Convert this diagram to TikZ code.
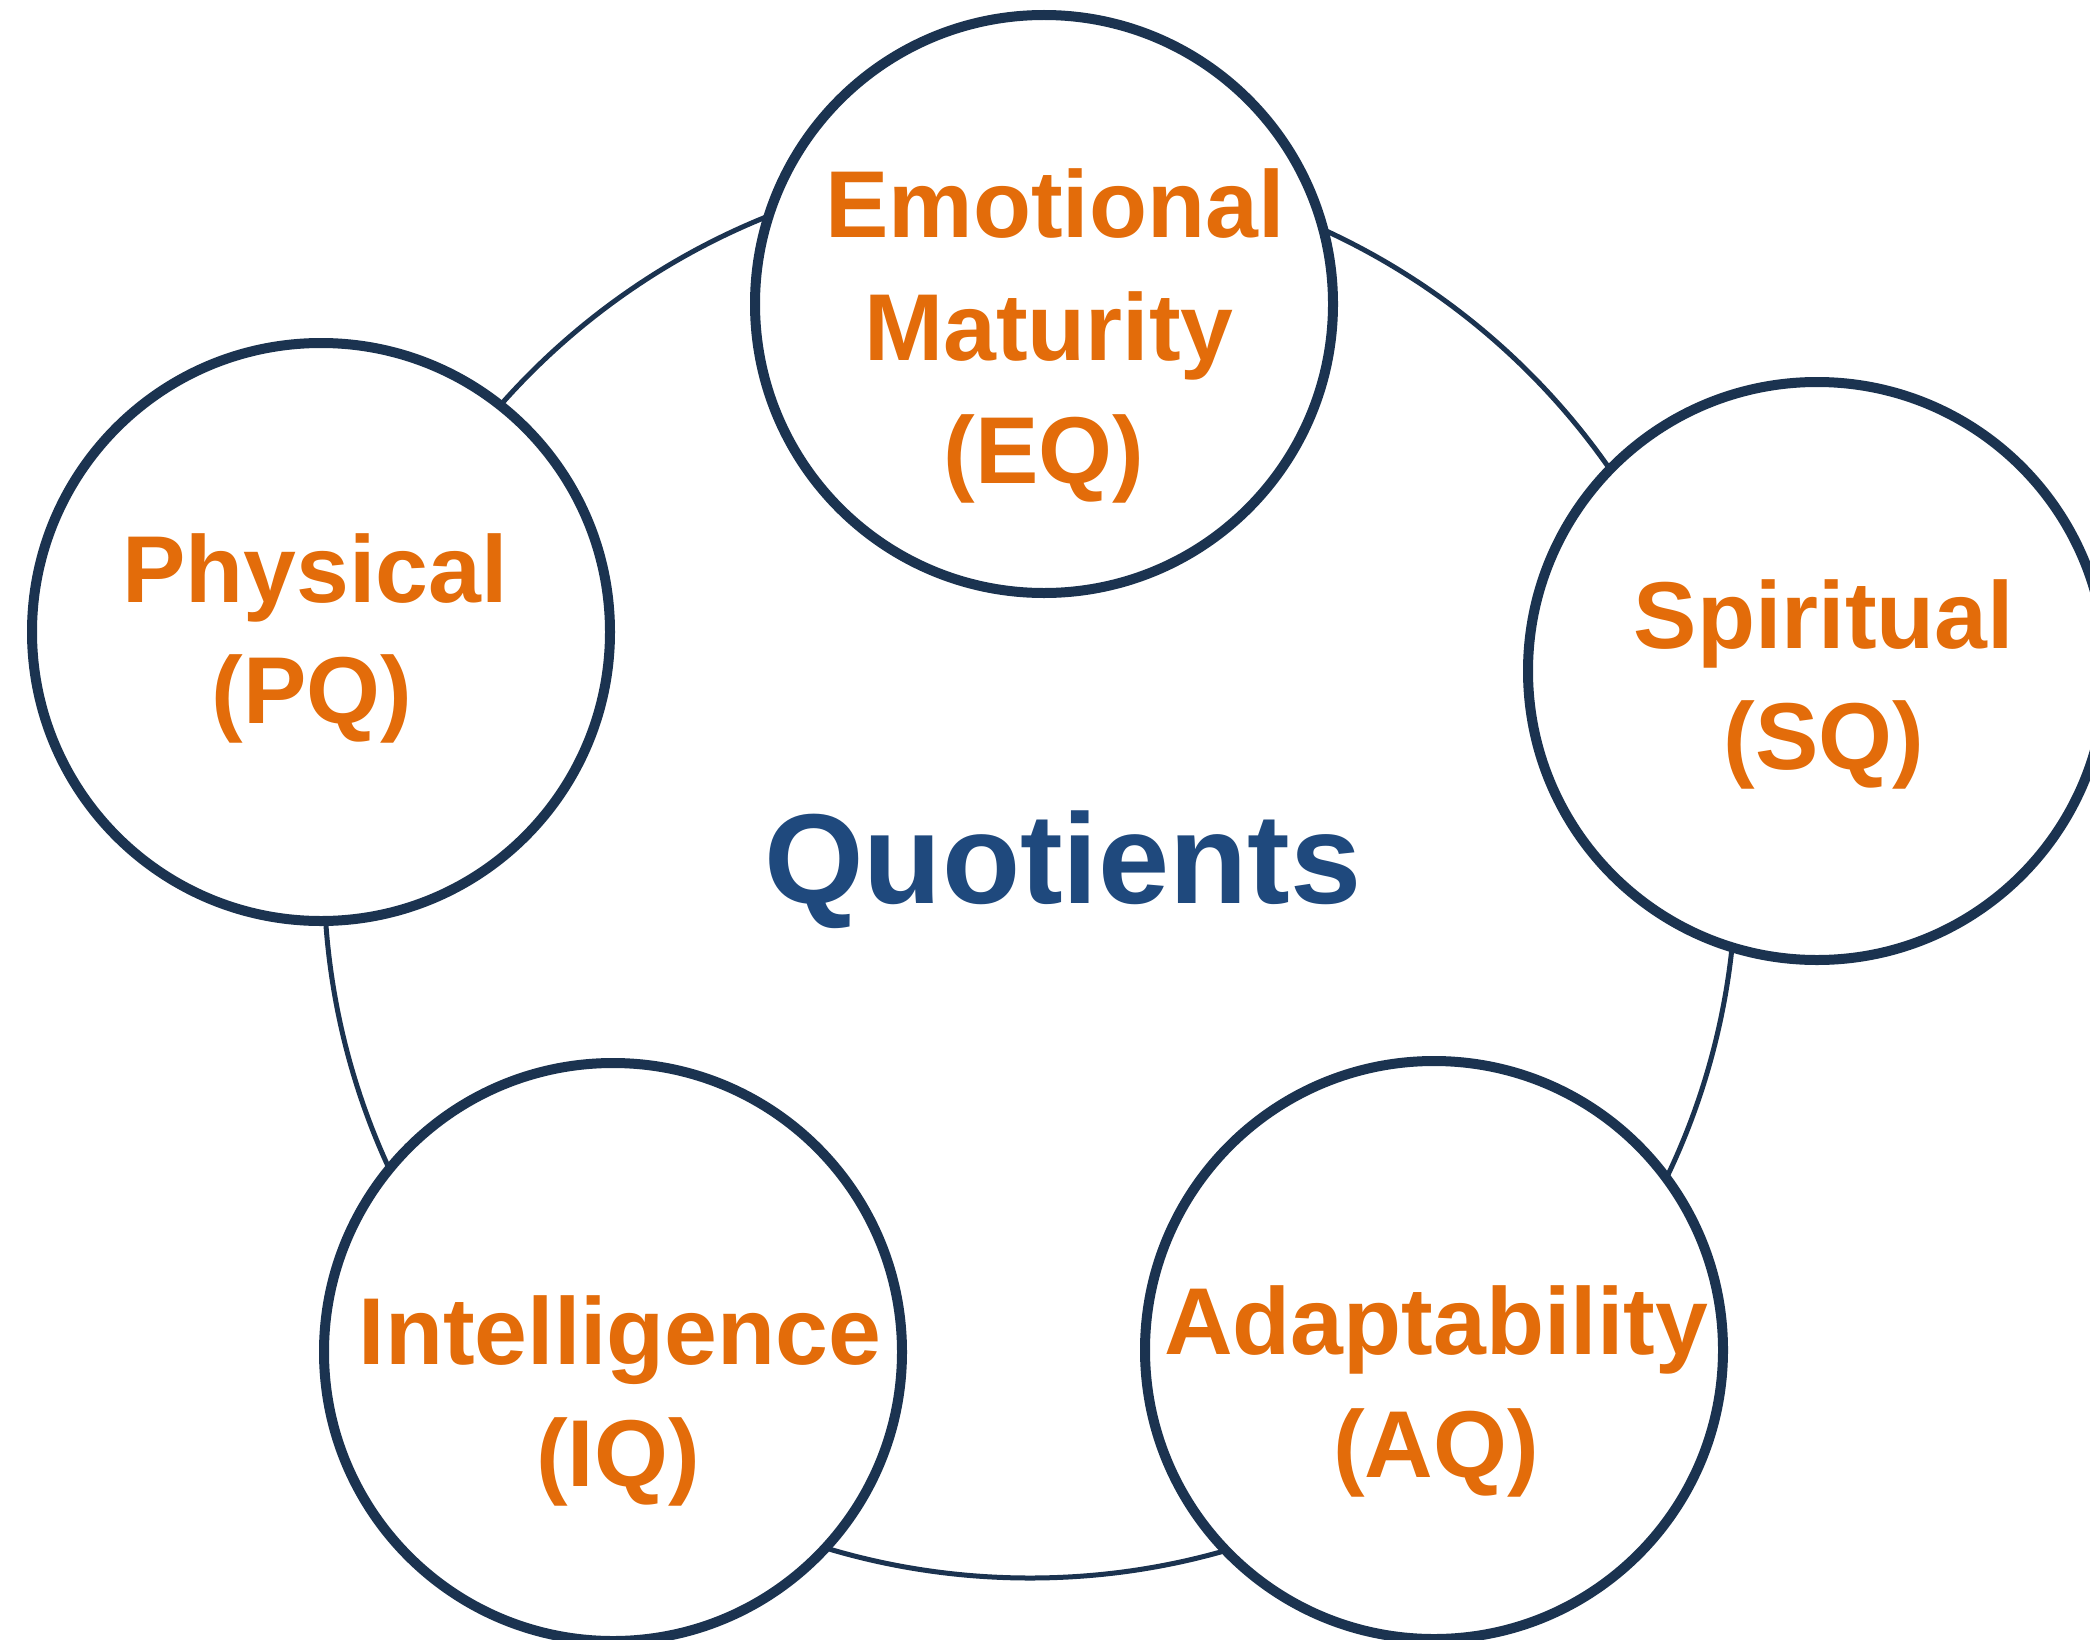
\documentclass[tikz,border=0pt]{standalone}
\usepackage{fontspec}
\setmainfont{Liberation Sans}
\definecolor{ringblue}{HTML}{1B3350}
\definecolor{labelorange}{HTML}{E36C0A}
\definecolor{titleblue}{HTML}{1F497D}
\tikzset{
  quot/.style={circle, draw=ringblue, line width=10pt, fill=white, minimum size=578pt, inner sep=0pt},
  lbl/.style={anchor=base, inner sep=0pt, text=labelorange, font=\fontsize{95}{114}\selectfont\bfseries},
  ringline/.style={draw=ringblue, line width=5pt}
}
\begin{document}
\begin{tikzpicture}[x=1pt,y=-1pt]
\useasboundingbox (0,0) rectangle (2090,1640);
\clip (0,0) rectangle (2090,1640);
\fill[white] (0,0) rectangle (2090,1640);
% ring connecting the quotients
\coordinate (ring) at (1030,872);
\draw[ringline] (ring) circle[radius=706pt];
% circles
\node[quot] (EQ) at (1044,304) {};
\node[quot] (PQ) at (321,632) {};
\node[quot] (SQ) at (1817,671) {};
\node[quot] (IQ) at (613,1352) {};
\node[quot] (AQ) at (1434,1350) {};
% labels
\node[lbl] (eqa) at (1055,237) {Emotional};
\node[lbl] (eqb) at (1049,360) {Maturity};
\node[lbl] (eqc) at (1044,483) {(EQ)};
\node[lbl] (pqa) at (315,602) {Physical};
\node[lbl] (pqb) at (312,723) {(PQ)};
\node[lbl] (sqa) at (1824,648) {Spiritual};
\node[lbl] (sqb) at (1824,769) {(SQ)};
\node[lbl] (iqa) at (620,1364) {Intelligence};
\node[lbl] (iqb) at (618,1486) {(IQ)};
\node[lbl] (aqa) at (1436,1354) {Adaptability};
\node[lbl] (aqb) at (1436,1477) {(AQ)};
% title
\node[anchor=base, inner sep=0pt, text=titleblue, font=\fontsize{128}{150}\selectfont\bfseries] (title) at (1063,903) {Quotients};
\end{tikzpicture}
\end{document}
